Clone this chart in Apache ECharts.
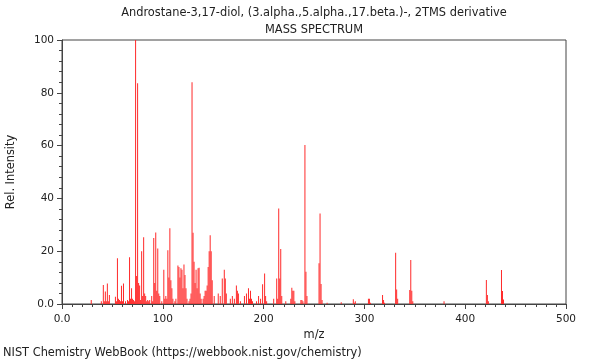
<!DOCTYPE html>
<html>
<head>
<meta charset="utf-8">
<script src="https://cdn.jsdelivr.net/npm/echarts@6/dist/echarts.min.js"></script>
<style>
html,body{margin:0;padding:0;background:#fff;}
#c{width:600px;height:360px;}
</style>
</head>
<body>
<div id="c"></div>
<script>
const titleLine1 = "Androstane-3,17-diol, (3.alpha.,5.alpha.,17.beta.)-, 2TMS derivative";
const titleLine2 = "MASS SPECTRUM";
const footer = "NIST Chemistry WebBook (https://webbook.nist.gov/chemistry)";
const xName = "m/z";
const yName = "Rel. Intensity";

const mz = [29,39,41,42,43,44,45,46,47,53,54,55,56,57,58,59,60,61,63,65,66,67,68,69,70,71,72,73,74,75,76,77,78,79,80,81,82,83,84,85,86,87,89,90,91,92,93,94,95,96,97,99,101,102,103,104,105,106,107,108,109,110,112,113,115,116,117,118,119,120,121,122,123,124,126,127,128,129,130,131,132,133,134,135,136,137,138,140,141,142,143,144,145,146,147,148,149,151,155,157,159,161,162,163,167,169,171,173,174,175,177,181,183,185,186,187,188,189,193,195,197,199,201,202,203,210,213,214,215,216,217,218,222,227,228,229,230,231,237,238,239,241,242,243,255,256,257,258,263,277,289,290,291,304,305,306,318,319,320,331,332,333,345,346,347,348,379,421,422,423,436,437,438];
const intensity = [1.5,1,7.2,1,4.7,1,7.8,1,3.4,2.7,1,17.3,2,1.5,1,6.9,1,7.8,1,1.5,1,17.7,2,6,2,1.5,1,100,10.6,83.6,8,7,1.5,20,3,25.3,4,3,1,1.5,1,1.5,3,1,25,8,27.1,5,21,4,3,1,13,2,3,2,20.4,10,28.7,9,6,2,1,2,14.6,14,10,13.5,13,6,15,11,6,2,1,2,4,84,27,16,8,13,6,13.5,13.7,4,2,2,3,5,5,7,14,20,26,20,9,3,4,3,9.7,13,9.7,4,2,3,2,7,5,4,1,3,4,6,2,5,2,1,1,3,2,7.5,11.6,3,1,2,9.7,2,36.2,9.7,20.8,3,1,2,6.2,5,5,1,1.5,1.5,1,60.2,12.2,3,15.4,34.3,7.6,1.5,0.5,0.7,1.8,0.5,1,2,2,0.5,3.4,1.5,0.5,19.4,5.5,2,5.3,16.7,5,1,1,9.1,3.4,1,12.9,4.9,1.7];

const xTicks = [0,100,200,300,400,500];
const yTicks = [0,20,40,60,80,100];

const seriesData = mz.map((m, i) => [m, intensity[i]]);

const chart = echarts.init(document.getElementById('c'), null, {renderer: 'canvas'});
const axisCol = '#444';
const fontFam = '"DejaVu Sans", sans-serif';
const txtSize = 11.4;
chart.setOption({
  animation: false,
  backgroundColor: '#fff',
  title: [
    {text: titleLine1, left: 314, top: 8, textAlign: 'center', padding: 0,
     textStyle: {fontSize: txtSize, fontWeight: 'normal', color: '#222', fontFamily: fontFam}},
    {text: titleLine2, left: 314, top: 25, textAlign: 'center', padding: 0,
     textStyle: {fontSize: txtSize, fontWeight: 'normal', color: '#222', fontFamily: fontFam}},
    {text: footer, left: 3, top: 348, padding: 0,
     textStyle: {fontSize: txtSize, fontWeight: 'normal', color: '#222', fontFamily: fontFam}}
  ],
  grid: {left: 62, right: 34, top: 40, bottom: 56, show: true, borderColor: axisCol, borderWidth: 1,
         backgroundColor: 'transparent', containLabel: false, outerBoundsMode: 'none'},
  xAxis: {
    type: 'value', min: xTicks[0], max: xTicks[xTicks.length-1], interval: 100,
    name: xName, nameLocation: 'middle', nameGap: 26,
    nameTextStyle: {fontSize: txtSize, color: '#222', fontFamily: fontFam},
    axisLine: {show: true, lineStyle: {color: axisCol}},
    axisTick: {show: true, length: 5, lineStyle: {color: axisCol}},
    minorTick: {show: true, splitNumber: 10, length: 3, lineStyle: {color: axisCol}},
    splitLine: {show: false},
    axisLabel: {fontSize: 10.5, color: '#222', fontFamily: fontFam, margin: 10,
      formatter: v => v === 0 ? '0.0' : String(v)}
  },
  yAxis: {
    type: 'value', min: yTicks[0], max: yTicks[yTicks.length-1], interval: 20,
    name: yName, nameLocation: 'middle', nameGap: 45, nameRotate: 90,
    nameTextStyle: {fontSize: txtSize, color: '#222', fontFamily: fontFam},
    axisLine: {show: true, lineStyle: {color: axisCol}},
    axisTick: {show: true, length: 5, lineStyle: {color: axisCol}},
    minorTick: {show: true, splitNumber: 5, length: 3, lineStyle: {color: axisCol}},
    splitLine: {show: false},
    axisLabel: {fontSize: 10.5, color: '#222', fontFamily: fontFam, margin: 8,
      formatter: v => v === 0 ? '0.0' : String(v)}
  },
  series: [{
    type: 'bar',
    data: seriesData,
    barWidth: 1,
    itemStyle: {color: '#ff2a2a'},
    silent: true
  }]
});
</script>
</body>
</html>
